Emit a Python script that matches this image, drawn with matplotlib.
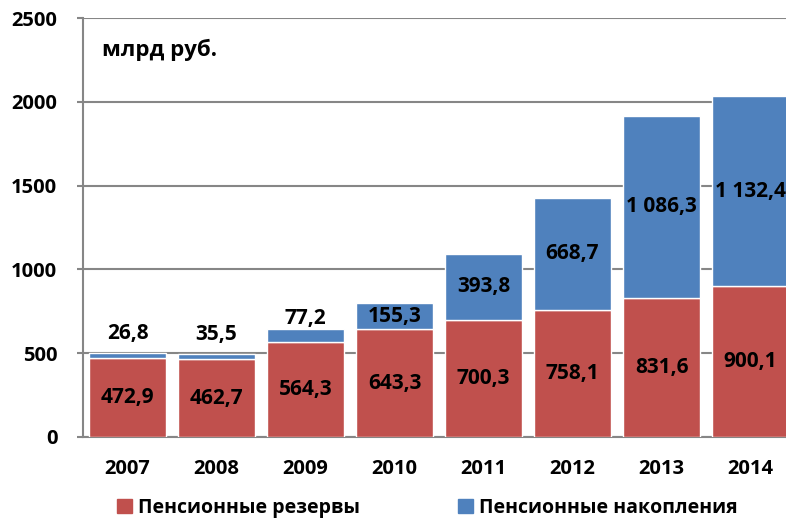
import matplotlib
matplotlib.use("Agg")
import matplotlib.pyplot as plt
from matplotlib.patches import Patch

plt.rcParams['font.family'] = ['Open Sans', 'DejaVu Sans']
plt.rcParams['font.weight'] = 'bold'

years = ["2007", "2008", "2009", "2010", "2011", "2012", "2013", "2014"]
reserves = [472.9, 462.7, 564.3, 643.3, 700.3, 758.1, 831.6, 900.1]
savings = [26.8, 35.5, 77.2, 155.3, 393.8, 668.7, 1086.3, 1132.4]
reserves_txt = ["472,9", "462,7", "564,3", "643,3", "700,3", "758,1", "831,6", "900,1"]
savings_txt = ["26,8", "35,5", "77,2", "155,3", "393,8", "668,7", "1 086,3", "1 132,4"]

red = "#C0504D"
blue = "#4F81BD"
grey = "#868686"

fig = plt.figure(figsize=(7.86, 5.22), dpi=100)
ax = fig.add_axes([83 / 786, 1 - 437 / 522, 712 / 786, 419 / 522])

x = list(range(len(years)))
ax.bar(x, reserves, width=0.86, color=red, edgecolor="white", linewidth=1, zorder=3)
ax.bar(x, savings, width=0.86, bottom=reserves, color=blue, edgecolor="white",
       linewidth=1, zorder=3)

ax.set_xlim(-0.5, 7.5)
ax.set_ylim(0, 2500)
ax.set_yticks([0, 500, 1000, 1500, 2000, 2500])
ax.yaxis.grid(True, color=grey, linewidth=1.5, zorder=0)
ax.set_axisbelow(True)

for s in ["right", "top"]:
    ax.spines[s].set_visible(False)
ax.spines["left"].set_color(grey)
ax.spines["bottom"].set_color(grey)
ax.spines["left"].set_linewidth(1.5)
ax.spines["bottom"].set_linewidth(1.5)

ax.set_xticks(x)
ax.set_xticklabels(years)
ax.tick_params(axis="x", length=0, pad=16, labelsize=14.5)
ax.tick_params(axis="y", length=4, color=grey, width=1.5, pad=14.5, labelsize=14.5)
for lbl in ax.get_xticklabels() + ax.get_yticklabels():
    lbl.set_fontweight("bold")

# red segment labels, centred
for i in x:
    ax.text(i, reserves[i] / 2, reserves_txt[i], ha="center", va="center",
            fontsize=15, fontweight="bold", zorder=4)

# blue segment labels: small ones go above the bar
above = {0: 620, 1: 609, 2: 710}
for i in x:
    y = above.get(i, reserves[i] + savings[i] / 2)
    ax.text(i, y, savings_txt[i], ha="center", va="center",
            fontsize=15, fontweight="bold", zorder=4, clip_on=False)

ax.text(0.027, 0.924, "млрд руб.", transform=ax.transAxes, ha="left", va="center",
        fontsize=16, fontweight="bold")

legend_items = [(red, "Пенсионные резервы", 117), (blue, "Пенсионные накопления", 458)]
for color, label, px in legend_items:
    fig.legend(handles=[Patch(color=color, label=label)], loc="center left",
               bbox_to_anchor=(px / 786, 1 - 508 / 522), frameon=False,
               borderpad=0, borderaxespad=0, handlelength=0.75, handleheight=0.75,
               handletextpad=0.35, prop={"weight": "bold", "size": 14})

fig.savefig("out.png", dpi=100)
